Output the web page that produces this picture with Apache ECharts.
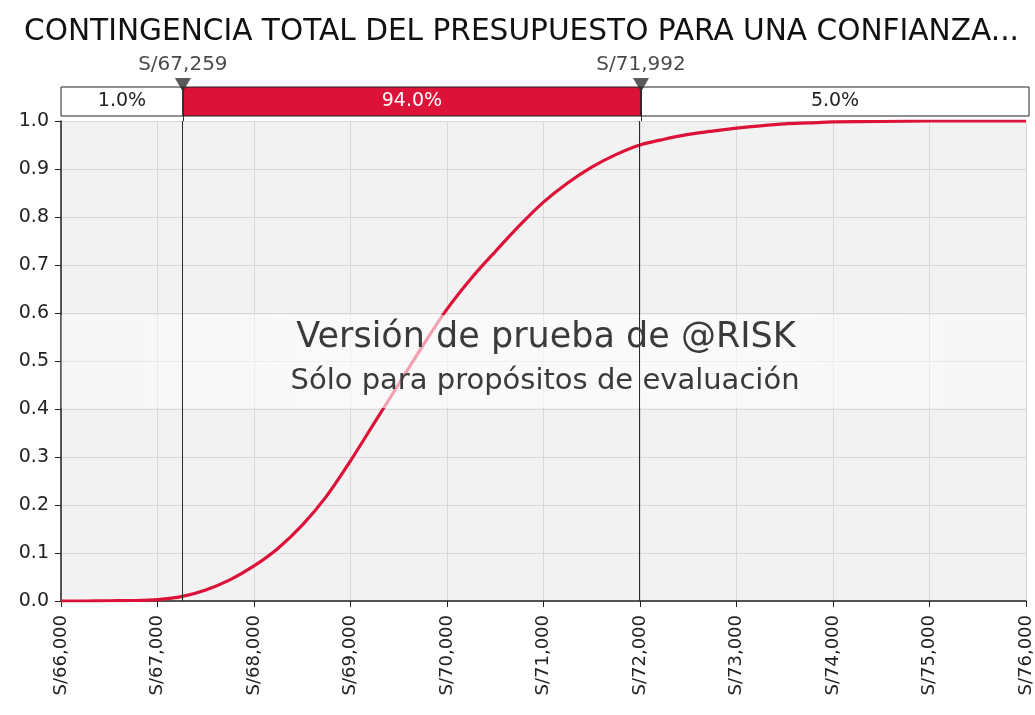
<!DOCTYPE html>
<html>
<head>
<meta charset="utf-8">
<script src="https://cdn.jsdelivr.net/npm/echarts@6/dist/echarts.min.js"></script>
<style>
  html, body { margin: 0; padding: 0; background: #fff; }
  #chart { width: 1035px; height: 715px; }
</style>
</head>
<body>
<div id="chart"></div>
<script>
const titleText = 'CONTINGENCIA TOTAL DEL PRESUPUESTO PARA UNA CONFIANZA...';

// cumulative probability
const costs = [66000, 66250, 66500, 66750, 67000, 67250, 67500, 67750, 68000, 68250,
  68500, 68750, 69000, 69250, 69500, 69750, 70000, 70250, 70500, 70750,
  71000, 71250, 71500, 71750, 72000, 72250, 72500, 72750, 73000, 73250,
  73500, 73750, 74000, 74500, 75000, 76000];
const cumProb = [0, 0, 0.0005, 0.001, 0.003, 0.009, 0.023, 0.044, 0.073, 0.11,
  0.158, 0.218, 0.292, 0.372, 0.452, 0.532, 0.608, 0.672, 0.728, 0.782,
  0.831, 0.871, 0.904, 0.93, 0.95, 0.962, 0.972, 0.979, 0.985, 0.99,
  0.994, 0.996, 0.998, 0.999, 1, 1];

const markerCosts = [67259, 71992];
const bandShares = ['1.0%', '94.0%', '5.0%'];
const xMin = 66000, xMax = 76000, xStep = 1000;
const watermark = ['Versión de prueba de @RISK', 'Sólo para propósitos de evaluación'];

const red = '#dc1238';
const font = 'DejaVu Sans';
const money = v => 'S/' + v.toLocaleString('en-US');

const chart = echarts.init(document.getElementById('chart'));

const bandEdges = [xMin, markerCosts[0], markerCosts[1], xMax];
const bandColors = ['#fff', red, '#fff'];
const bandText = ['#222', '#fff', '#222'];
const bandData = bandShares.map((s, i) => [
  {
    name: s, xAxis: bandEdges[i], yAxis: 0.147,
    itemStyle: { color: bandColors[i], borderColor: '#222', borderWidth: 1 },
    label: { color: bandText[i] }
  },
  { xAxis: bandEdges[i + 1], yAxis: 1 }
]);

const vLine = {
  silent: true,
  symbol: 'none',
  label: { show: false },
  lineStyle: { color: '#2a2a2a', width: 1, type: 'solid' }
};

const fog = new echarts.graphic.LinearGradient(0, 0, 1, 0, [
  { offset: 0, color: 'rgba(255,255,255,0.3)' },
  { offset: 0.3, color: 'rgba(255,255,255,0.6)' },
  { offset: 0.7, color: 'rgba(255,255,255,0.6)' },
  { offset: 1, color: 'rgba(255,255,255,0.3)' }
]);

chart.setOption({
  animation: false,
  title: {
    text: titleText,
    left: 19,
    top: 12,
    textStyle: { fontFamily: font, fontSize: 29.6, fontWeight: 'normal', color: '#111' }
  },
  grid: [
    { left: 61, top: 121, width: 968, height: 480, show: true,
      backgroundColor: '#f2f2f2', borderWidth: 0 },
    { left: 61, top: 87, width: 968, height: 34, show: false }
  ],
  xAxis: [
    {
      type: 'value', gridIndex: 0, min: xMin, max: xMax, interval: xStep,
      axisLine: { lineStyle: { color: '#222', width: 1.5 } },
      axisTick: { show: true, length: 6, lineStyle: { color: '#222' } },
      splitLine: { lineStyle: { color: '#d8d8d8' } },
      axisLabel: { rotate: 90, margin: 14, fontFamily: font, fontSize: 18, color: '#222',
        formatter: money }
    },
    { type: 'value', gridIndex: 1, min: xMin, max: xMax, show: false }
  ],
  yAxis: [
    {
      type: 'value', gridIndex: 0, min: 0, max: 1, interval: 0.1,
      axisLine: { show: true, lineStyle: { color: '#222', width: 1.5 } },
      axisTick: { show: true, length: 6, lineStyle: { color: '#222' } },
      splitLine: { lineStyle: { color: '#d8d8d8' } },
      axisLabel: { margin: 12, fontFamily: font, fontSize: 19, color: '#222',
        formatter: v => v.toFixed(1) }
    },
    { type: 'value', gridIndex: 1, min: 0, max: 1, show: false }
  ],
  series: [
    {
      type: 'line',
      xAxisIndex: 0, yAxisIndex: 0,
      data: costs.map((c, i) => [c, cumProb[i]]),
      smooth: 0.3,
      showSymbol: false,
      lineStyle: { color: red, width: 3.2 },
      z: 2,
      // watermark band sits over the curve, the limit lines over the band
      markArea: {
        silent: true,
        z: 3,
        itemStyle: { color: fog },
        data: [[{ xAxis: xMin, yAxis: 0.402 }, { xAxis: xMax, yAxis: 0.596 }]]
      },
      markLine: Object.assign({ z: 6, data: markerCosts.map(c => ({ xAxis: c })) }, vLine)
    },
    {
      type: 'line',
      xAxisIndex: 1, yAxisIndex: 1,
      data: [],
      z: 1,
      markArea: {
        silent: true,
        label: { show: true, position: 'inside', fontFamily: font, fontSize: 19 },
        data: bandData
      }
    },
    {
      type: 'scatter',
      xAxisIndex: 1, yAxisIndex: 1,
      clip: false,
      z: 5,
      data: markerCosts.map(c => [c, 1]),
      symbol: 'triangle',
      symbolRotate: 180,
      symbolSize: [16, 14],
      symbolOffset: [0, -2],
      itemStyle: { color: '#2f2f2f' },
      label: {
        show: true, position: 'top', distance: 3,
        fontFamily: font, fontSize: 20, color: '#1a1a1a',
        formatter: p => money(p.value[0])
      },
      markLine: Object.assign({ data: markerCosts.map(c => [{ coord: [c, 0] }, { coord: [c, 1] }]) }, vLine)
    }
  ],
  graphic: [
    {
      type: 'text', z: 101, silent: true,
      style: { text: watermark[0], x: 546, y: 338, align: 'center', verticalAlign: 'middle',
        fill: '#3a3a3a', font: '35px "DejaVu Sans"' }
    },
    {
      type: 'text', z: 101, silent: true,
      style: { text: watermark[1], x: 545, y: 381, align: 'center', verticalAlign: 'middle',
        fill: '#3a3a3a', font: '29px "DejaVu Sans"' }
    }
  ]
});
</script>
</body>
</html>
